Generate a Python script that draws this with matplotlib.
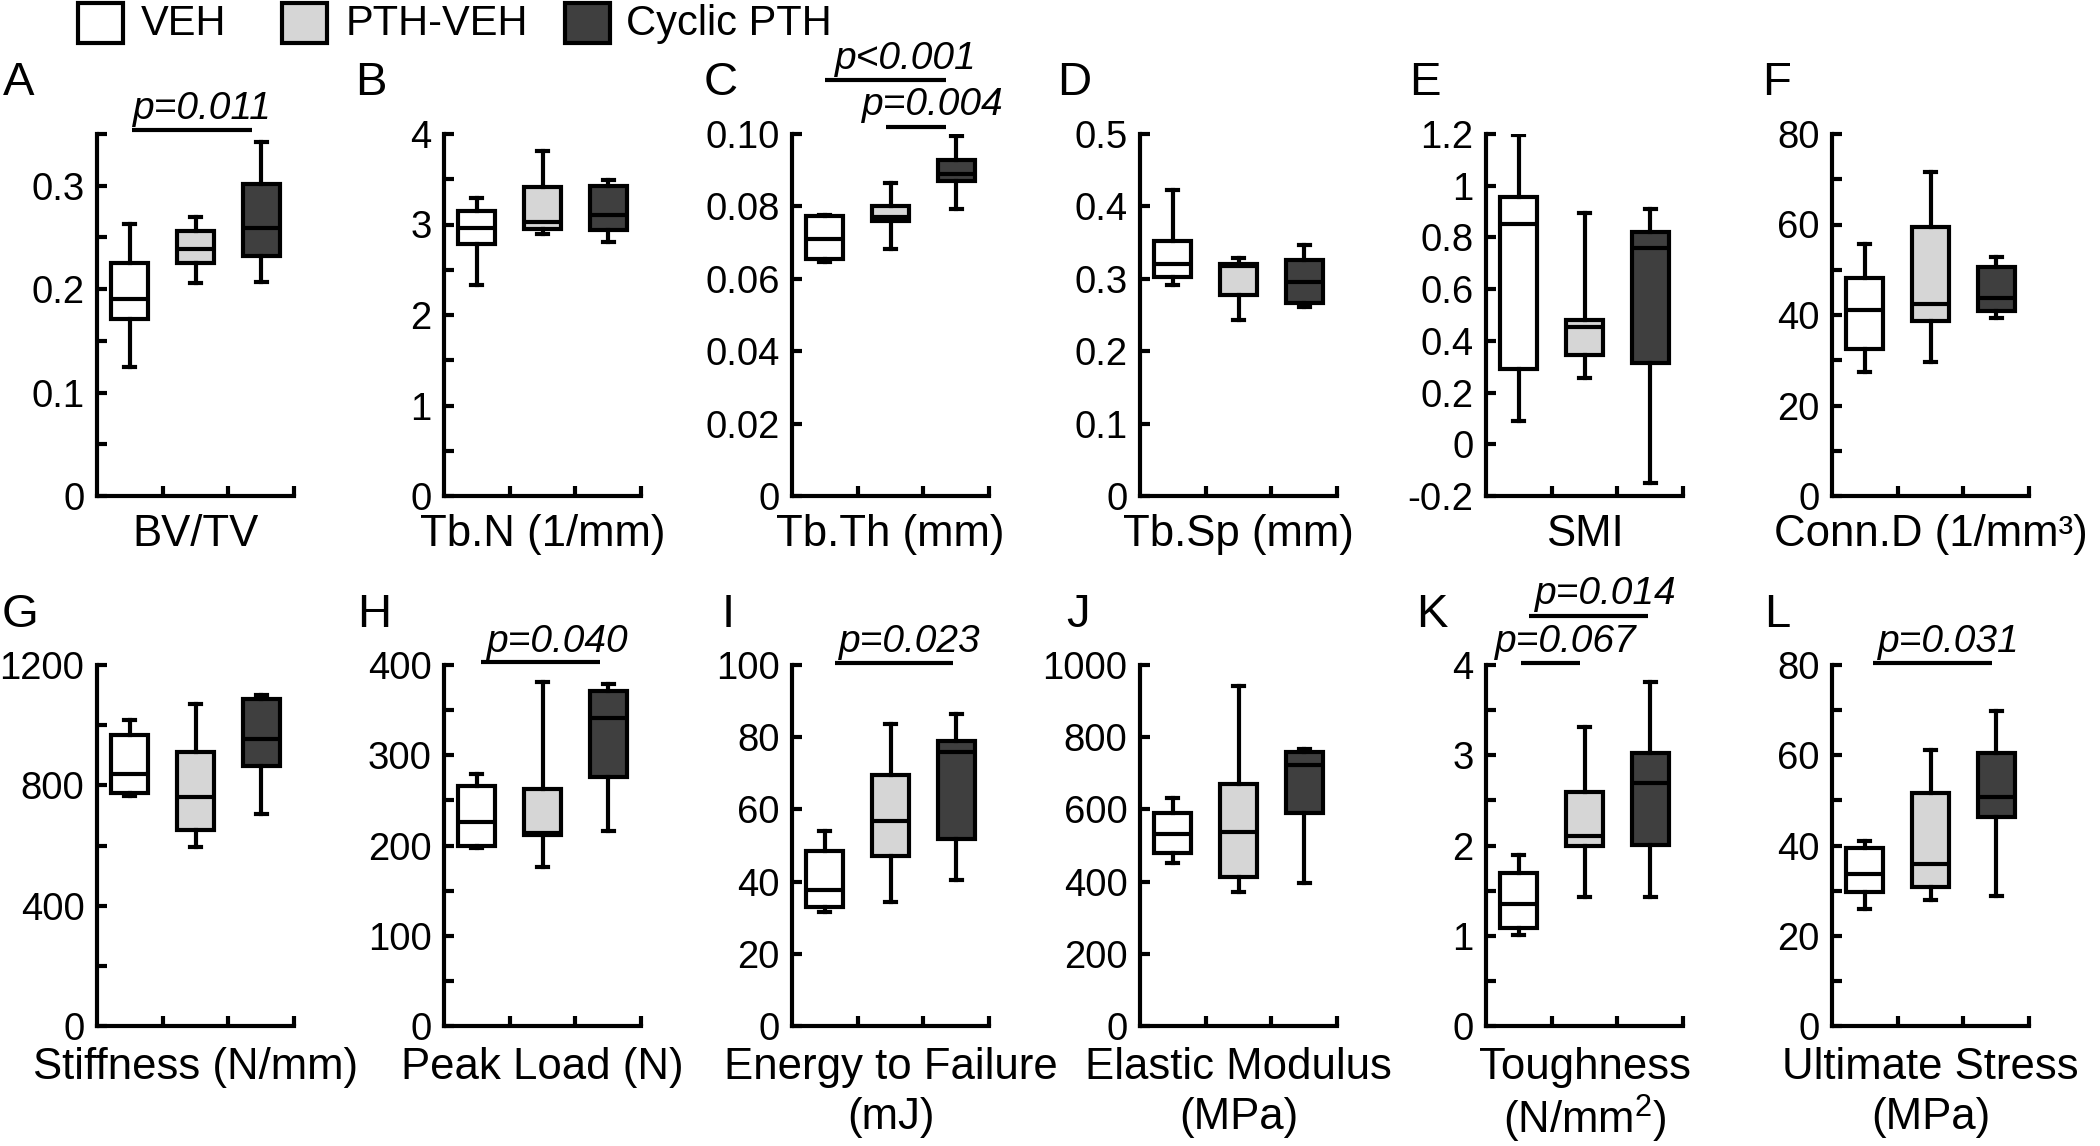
import numpy as np
import matplotlib
matplotlib.use('Agg')
import matplotlib.pyplot as plt
import matplotlib.transforms as mtransforms
from matplotlib.patches import Rectangle

plt.rcParams['font.family'] = 'Liberation Sans'
plt.rcParams['mathtext.fontset'] = 'custom'
plt.rcParams['mathtext.rm'] = 'Liberation Sans'
plt.rcParams['mathtext.it'] = 'Liberation Sans:italic'

# groups and fill colours
groups = ['VEH', 'PTH-VEH', 'Cyclic PTH']
colors = ['white', '#d6d6d6', '#3f3f3f']

# box stats per group: [whisker low, q1, median, q3, whisker high]
bvtv = [[0.125, 0.171, 0.190, 0.225, 0.263],
        [0.206, 0.225, 0.239, 0.256, 0.270],
        [0.207, 0.232, 0.259, 0.302, 0.342]]
tbn = [[2.33, 2.79, 2.96, 3.15, 3.29],
       [2.90, 2.95, 3.03, 3.41, 3.81],
       [2.81, 2.94, 3.11, 3.43, 3.49]]
tbth = [[0.0647, 0.0654, 0.0709, 0.0773, 0.0776],
        [0.0682, 0.0760, 0.0772, 0.0802, 0.0865],
        [0.0793, 0.0870, 0.0889, 0.0929, 0.0995]]
tbsp = [[0.2915, 0.303, 0.321, 0.352, 0.422],
        [0.243, 0.278, 0.317, 0.320, 0.329],
        [0.261, 0.267, 0.296, 0.326, 0.346]]
smi = [[0.090, 0.290, 0.852, 0.956, 1.197],
       [0.258, 0.345, 0.455, 0.479, 0.894],
       [-0.148, 0.313, 0.759, 0.821, 0.910]]
connd = [[27.3, 32.4, 41.1, 48.2, 55.7],
         [29.6, 38.7, 42.5, 59.4, 71.5],
         [39.3, 40.9, 43.8, 50.6, 52.8]]
stiffness = [[766, 776, 838, 967, 1016],
             [595, 652, 760, 912, 1072],
             [704, 865, 955, 1088, 1101]]
peak_load = [[197, 200, 226, 266, 279],
             [176, 212, 214, 263, 381],
             [216, 276, 341, 371, 379]]
energy = [[31.5, 33.0, 37.6, 48.5, 54.1],
          [34.3, 47.2, 56.8, 69.5, 83.6],
          [40.5, 51.9, 75.9, 79.0, 86.4]]
modulus = [[452, 479, 531, 591, 632],
           [371, 413, 537, 671, 943],
           [397, 589, 722, 759, 766]]
toughness = [[1.01, 1.09, 1.35, 1.69, 1.89],
             [1.43, 1.99, 2.10, 2.59, 3.31],
             [1.43, 2.01, 2.69, 3.02, 3.81]]
ult_stress = [[26.0, 29.6, 33.7, 39.5, 41.0],
              [27.9, 30.8, 36.0, 51.7, 61.2],
              [28.9, 46.4, 50.8, 60.6, 69.8]]

panel_data = [bvtv, tbn, tbth, tbsp, smi, connd,
              stiffness, peak_load, energy, modulus, toughness, ult_stress]
letters = ['A', 'B', 'C', 'D', 'E', 'F', 'G', 'H', 'I', 'J', 'K', 'L']
xlabels = ['BV/TV', 'Tb.N (1/mm)', 'Tb.Th (mm)', 'Tb.Sp (mm)', 'SMI',
           'Conn.D (1/mm\u00b3)', 'Stiffness (N/mm)', 'Peak Load (N)',
           'Energy to Failure\n(mJ)', 'Elastic Modulus\n(MPa)',
           'Toughness\n(N/mm$^2$)', 'Ultimate Stress\n(MPa)']
# y axis: (min, max, tick step, label step)
yaxes = [(0, 0.35, 0.05, 0.1), (0, 4, 0.5, 1), (0, 0.10, 0.02, 0.02),
         (0, 0.5, 0.1, 0.1), (-0.2, 1.2, 0.2, 0.2), (0, 80, 10, 20),
         (0, 1200, 200, 400), (0, 400, 50, 100), (0, 100, 20, 20),
         (0, 1000, 200, 200), (0, 4, 0.5, 1), (0, 80, 10, 20)]
# significance: panel, bar from, bar to, text
sig = [(0, 1.03, 2.86, 'p=0.011'),
       (2, 1.01, 2.84, 'p<0.001'),
       (2, 1.93, 2.84, 'p=0.004'),
       (7, 1.07, 2.87, 'p=0.040'),
       (8, 1.16, 2.95, 'p=0.023'),
       (10, 1.15, 2.96, 'p=0.014'),
       (10, 1.03, 1.93, 'p=0.067'),
       (11, 1.13, 2.93, 'p=0.031')]
# where each bar/text sits (axes fraction y of line, data x of text, axes y of text)
sig_pos = [(1.011, 1.05, 1.041), (1.148, 1.15, 1.18), (1.018, 1.56, 1.052),
           (1.008, 1.15, 1.036), (1.005, 1.22, 1.036), (1.136, 1.25, 1.17),
           (1.005, 0.64, 1.036), (1.005, 1.20, 1.036)]

W, H = 2100, 1146
fig = plt.figure(figsize=(W / 100, H / 100), dpi=100)

lefts = [97, 444, 792, 1140, 1486, 1832]
axw = 197
rows = [(134, 496), (665, 1026)]
letter_x = [[3, 355, 704, 1057, 1409, 1762], [2, 357, 722, 1066, 1416, 1764]]
letter_base = [95, 627]
lw = 3.0

axes = []
for i, data in enumerate(panel_data):
    r, c = divmod(i, 6)
    top, bot = rows[r]
    ax = fig.add_axes([lefts[c] / W, 1 - bot / H, axw / W, (bot - top) / H])
    axes.append(ax)
    stats = [dict(whislo=d[0], q1=d[1], med=d[2], q3=d[3], whishi=d[4], fliers=[])
             for d in data]
    bp = ax.bxp(stats, positions=[1, 2, 3], widths=0.56, capwidths=0.17,
                patch_artist=True, showfliers=False, manage_ticks=False,
                boxprops=dict(linewidth=lw, edgecolor='black'),
                medianprops=dict(color='black', linewidth=lw),
                whiskerprops=dict(color='black', linewidth=lw),
                capprops=dict(color='black', linewidth=lw))
    for patch, col in zip(bp['boxes'], colors):
        patch.set_facecolor(col)

    lo, hi, step, lstep = yaxes[i]
    ax.set_xlim(0.5, 3.5)
    ax.set_ylim(lo, hi)
    ticks = np.arange(lo, hi + step / 2, step)
    labels = []
    for v in ticks:
        if abs(v / lstep - round(v / lstep)) > 1e-6:
            labels.append('')
        elif abs(v) < 1e-9:
            labels.append('0')
        elif i == 2:
            labels.append(f'{v:.2f}')
        else:
            labels.append(f'{v:g}')
    ax.set_yticks(ticks)
    ax.set_yticklabels(labels)
    ax.set_xticks([1.5, 2.5, 3.5])
    ax.tick_params(axis='both', direction='in', length=7, width=lw,
                   labelsize=27.5, pad=9)
    ax.tick_params(axis='x', labelbottom=False)
    for s in ['top', 'right']:
        ax.spines[s].set_visible(False)
    for s in ['left', 'bottom']:
        ax.spines[s].set_linewidth(lw)
    ax.set_xlabel(xlabels[i], fontsize=31.5, labelpad=13 if r == 0 else 15,
                  linespacing=1.12 if '$' in xlabels[i] else 1.28)
    fig.text(letter_x[r][c] / W, 1 - letter_base[r] / H, letters[i],
             fontsize=34, ha='left', va='baseline')

for (p, x1, x2, txt), (ly, tx, ty) in zip(sig, sig_pos):
    ax = axes[p]
    trans = mtransforms.blended_transform_factory(ax.transData, ax.transAxes)
    ax.plot([x1, x2], [ly, ly], color='black', lw=lw, transform=trans,
            clip_on=False, solid_capstyle='butt')
    ax.text(tx, ty, txt, transform=trans, fontsize=28, style='italic',
            ha='left', va='baseline')

# legend
box_x = [78, 282, 565]
text_x = [141, 346, 626]
for g, col, bx, tx in zip(groups, colors, box_x, text_x):
    fig.add_artist(Rectangle((bx / W, 1 - 43 / H), 45 / W, 40 / H,
                             transform=fig.transFigure, facecolor=col,
                             edgecolor='black', linewidth=lw))
    fig.text(tx / W, 1 - 24 / H, g, fontsize=30, ha='left', va='center')

fig.savefig('out.png', dpi=100)
